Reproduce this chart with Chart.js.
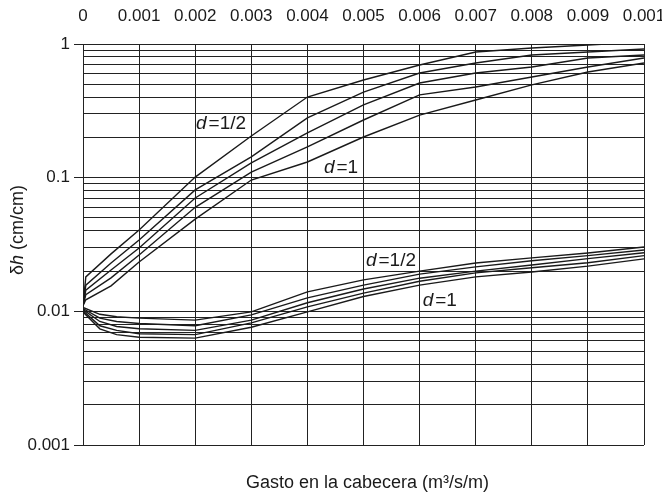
<!DOCTYPE html>
<html>
<head>
<meta charset="utf-8">
<script src="https://cdn.jsdelivr.net/npm/chart.js@4.4.1/dist/chart.umd.min.js"></script>
<style>
html,body{margin:0;padding:0;background:#fff;}
canvas{display:block;}
</style>
</head>
<body>
<canvas id="c" width="662" height="494"></canvas>
<script>
// ---- data ----
const xTickValues = [0, 0.001, 0.002, 0.003, 0.004, 0.005, 0.006, 0.007, 0.008, 0.009, 0.01];
const xTickLabels = ['0', '0.001', '0.002', '0.003', '0.004', '0.005', '0.006', '0.007', '0.008', '0.009', '0.001'];
const yDecades = [0.001, 0.01, 0.1, 1];
const yDecadeLabels = ['0.001', '0.01', '0.1', '1'];

// upper family (d = 1/2 ... d = 1)
const xUpper = [0, 0.00005, 0.0005, 0.001, 0.002, 0.003, 0.004, 0.005, 0.006, 0.007, 0.008, 0.009, 0.01];
const upper1 = [0.011, 0.0181, 0.0269, 0.0406, 0.101, 0.205, 0.401, 0.538, 0.697, 0.871, 0.933, 0.983, 1.035];
const upper2 = [0.011, 0.0157, 0.0230, 0.0342, 0.081, 0.143, 0.280, 0.437, 0.607, 0.721, 0.827, 0.871, 0.918];
const upper3 = [0.011, 0.0144, 0.0204, 0.0298, 0.0705, 0.129, 0.216, 0.350, 0.511, 0.607, 0.673, 0.786, 0.827];
const upper4 = [0.011, 0.0133, 0.0178, 0.0264, 0.060, 0.110, 0.170, 0.270, 0.416, 0.477, 0.566, 0.673, 0.786];
const upper5 = [0.011, 0.0122, 0.0155, 0.0234, 0.049, 0.096, 0.131, 0.2015, 0.294, 0.381, 0.494, 0.617, 0.721];

// lower family (d = 1/2 ... d = 1)
const xLower = [0, 0.0003, 0.0006, 0.001, 0.002, 0.003, 0.004, 0.005, 0.006, 0.007, 0.008, 0.009, 0.01];
const lower1 = [0.0107, 0.0095, 0.0091, 0.0089, 0.0086, 0.0099, 0.0140, 0.0172, 0.0200, 0.0230, 0.0251, 0.0273, 0.0303];
const lower2 = [0.0105, 0.0089, 0.0084, 0.0081, 0.0078, 0.0094, 0.0126, 0.0157, 0.0190, 0.0215, 0.0239, 0.0261, 0.0288];
const lower3 = [0.0103, 0.0084, 0.0077, 0.0074, 0.0072, 0.0086, 0.0116, 0.0147, 0.0177, 0.0200, 0.0222, 0.0248, 0.0274];
const lower4 = [0.0101, 0.0078, 0.0072, 0.0068, 0.0067, 0.0082, 0.0108, 0.0137, 0.0168, 0.0194, 0.0212, 0.0231, 0.0261];
const lower5 = [0.0099, 0.0074, 0.0067, 0.0064, 0.0063, 0.0076, 0.0099, 0.0129, 0.0157, 0.0181, 0.0197, 0.0218, 0.0247];

// curve labels (in data units)
const labelX = [0.00246, 0.0046, 0.00549, 0.00636];
const labelY = [0.252, 0.118, 0.0238, 0.01197];
const labelRest = ['=1/2', '=1', '=1/2', '=1'];

const xTitle = 'Gasto en la cabecera (m³/s/m)';
const yTitleParts = ['δ', 'h', ' (cm/cm)'];

// ---- build ----
const INK = '#1a1a1a';
const FONT = '"Liberation Sans", Arial, Helvetica, sans-serif';

function series(xs, ys) { return xs.map((x, i) => ({x: x, y: ys[i]})); }
const allSeries = [
  series(xUpper, upper1), series(xUpper, upper2), series(xUpper, upper3), series(xUpper, upper4), series(xUpper, upper5),
  series(xLower, lower1), series(xLower, lower2), series(xLower, lower3), series(xLower, lower4), series(xLower, lower5)
];

const yGridValues = [];
for (let e = -3; e < 0; e++) {
  for (let m = 1; m <= 9; m++) yGridValues.push(parseFloat((m * Math.pow(10, e)).toPrecision(6)));
}
yGridValues.push(1);

function decadeIndex(v) {
  return yDecades.findIndex(d => Math.abs(d - v) / d < 1e-6);
}

const textPlugin = {
  id: 'texts',
  afterDraw(chart) {
    const ctx = chart.ctx;
    const xs = chart.scales.x, ys = chart.scales.y;
    ctx.save();
    ctx.fillStyle = INK;
    ctx.textBaseline = 'middle';
    // curve labels: italic d, then "=1/2" with slightly spaced "="
    const LF = 19;
    for (let i = 0; i < labelX.length; i++) {
      const px = xs.getPixelForValue(labelX[i]);
      const py = ys.getPixelForValue(labelY[i]);
      ctx.font = 'italic ' + LF + 'px ' + FONT;
      const wd = ctx.measureText('d').width;
      ctx.font = LF + 'px ' + FONT;
      const wr = ctx.measureText(labelRest[i]).width;
      const gap = 2;
      let sx = px - (wd + wr + gap) / 2;
      ctx.textAlign = 'left';
      ctx.font = 'italic ' + LF + 'px ' + FONT;
      ctx.fillText('d', sx, py);
      ctx.font = LF + 'px ' + FONT;
      ctx.fillText(labelRest[i], sx + wd + gap, py);
    }
    // x title (bottom)
    ctx.font = '18px ' + FONT;
    ctx.textAlign = 'center';
    ctx.fillText(xTitle, (chart.chartArea.left + chart.chartArea.right) / 2 + 4, 483);
    // y title (rotated)
    ctx.translate(18, 230);
    ctx.rotate(-Math.PI / 2);
    const fonts = ['18px ' + FONT, 'italic 18px ' + FONT, '18px ' + FONT];
    let total = 0;
    const widths = yTitleParts.map((t, i) => { ctx.font = fonts[i]; const w = ctx.measureText(t).width; total += w; return w; });
    let cx = -total / 2;
    ctx.textAlign = 'left';
    yTitleParts.forEach((t, i) => { ctx.font = fonts[i]; ctx.fillText(t, cx, 0); cx += widths[i]; });
    ctx.restore();
  }
};

new Chart(document.getElementById('c'), {
  type: 'line',
  data: {
    datasets: allSeries.map(d => ({
      data: d,
      borderColor: INK,
      borderWidth: 1.4,
      pointRadius: 0,
      fill: false,
      tension: 0
    }))
  },
  options: {
    responsive: false,
    animation: false,
    devicePixelRatio: 1,
    layout: {padding: {left: 0, right: 18, top: 0, bottom: 49}},
    plugins: {legend: {display: false}, tooltip: {enabled: false}, title: {display: false}},
    scales: {
      x: {
        type: 'linear',
        position: 'top',
        min: 0, max: 0.01,
        afterBuildTicks(scale) { scale.ticks = xTickValues.map(v => ({value: v})); },
        afterFit(scale) { scale.height = 44; scale.paddingLeft = 0; scale.paddingRight = 0; },
        ticks: {
          autoSkip: false, maxRotation: 0, padding: 17,
          color: INK, font: {family: FONT, size: 17},
          callback(v, i) { return xTickLabels[i]; }
        },
        grid: {color: '#222', lineWidth: 1, drawTicks: false},
        border: {color: '#222', width: 1}
      },
      y: {
        type: 'logarithmic',
        position: 'left',
        min: 0.001, max: 1,
        afterBuildTicks(scale) { scale.ticks = yGridValues.map(v => ({value: v})); },
        afterFit(scale) { scale.width = 83; scale.paddingTop = 0; scale.paddingBottom = 0; },
        ticks: {
          autoSkip: false, padding: 4,
          color: INK, font: {family: FONT, size: 17},
          callback(v) { const k = decadeIndex(v); return k >= 0 ? yDecadeLabels[k] : ''; }
        },
        grid: {
          color: '#222', lineWidth: 1, tickLength: 9,
          tickColor(ctx) { return ctx.tick && decadeIndex(ctx.tick.value) >= 0 ? '#222' : 'rgba(0,0,0,0)'; }
        },
        border: {color: '#222', width: 1}
      }
    }
  },
  plugins: [textPlugin]
});
</script>
</body>
</html>
